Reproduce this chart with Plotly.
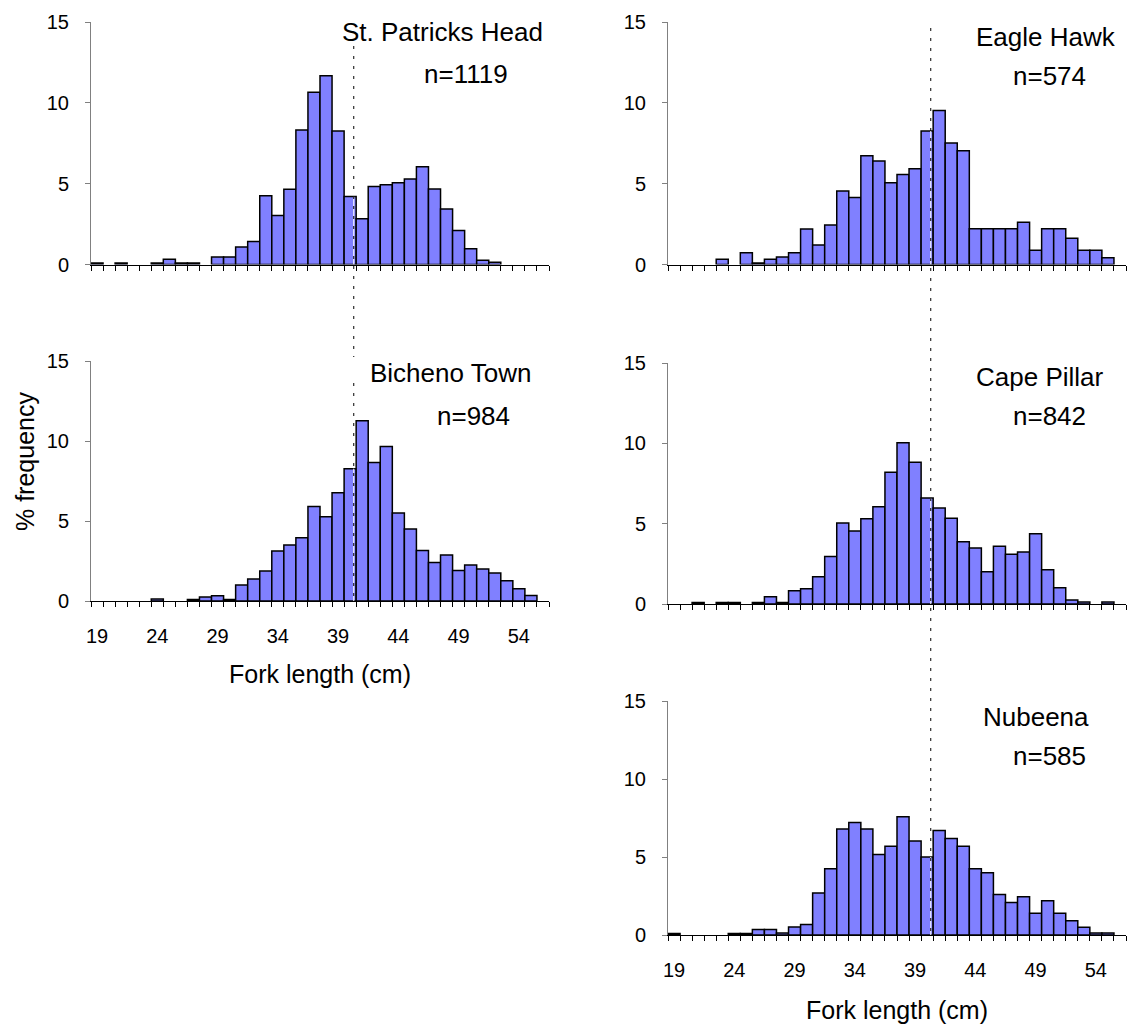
import plotly.graph_objects as go

# ---------------- data ----------------
fork_length_cm = [19, 20, 21, 22, 23, 24, 25, 26, 27, 28, 29, 30, 31, 32, 33, 34, 35, 36, 37,
                  38, 39, 40, 41, 42, 43, 44, 45, 46, 47, 48, 49, 50, 51, 52, 53, 54, 55, 56]
tick_values = [19, 24, 29, 34, 39, 44, 49, 54]
tick_labels = ["19", "24", "29", "34", "39", "44", "49", "54"]

st_patricks_head = [0.1, 0, 0.1, 0, 0, 0.1, 0.33, 0.1, 0.1, 0, 0.47, 0.47, 1.09, 1.43, 4.26, 3.03,
                    4.65, 8.32, 10.65, 11.68, 8.26, 4.2, 2.83, 4.82, 4.94, 5.06, 5.29, 6.05, 4.67,
                    3.44, 2.11, 0.98, 0.27, 0.14, 0, 0, 0, 0]
eagle_hawk = [0, 0, 0, 0, 0.33, 0, 0.72, 0.1, 0.33, 0.47, 0.72, 2.19, 1.21, 2.44, 4.55, 4.14,
              6.72, 6.4, 5.06, 5.57, 5.92, 8.26, 9.53, 7.52, 7.03, 2.21, 2.21, 2.21, 2.21, 2.62,
              0.88, 2.21, 2.21, 1.62, 0.88, 0.88, 0.41, 0]
bicheno_town = [0, 0, 0, 0, 0, 0.12, 0, 0, 0.1, 0.25, 0.33, 0.1, 1.0, 1.37, 1.87, 3.12, 3.5,
                3.96, 5.9, 5.27, 6.77, 8.27, 11.27, 8.65, 9.65, 5.5, 4.5, 3.15, 2.4, 2.88, 1.9,
                2.25, 2.0, 1.75, 1.27, 0.77, 0.35, 0]
cape_pillar = [0, 0, 0.1, 0, 0.1, 0.1, 0, 0.1, 0.45, 0.1, 0.83, 0.95, 1.69, 2.95, 5.04, 4.55,
               5.31, 6.05, 8.2, 10.04, 8.82, 6.59, 5.97, 5.33, 3.88, 3.49, 2.0, 3.6, 3.1, 3.24,
               4.38, 2.13, 1.01, 0.25, 0.12, 0, 0.12, 0]
nubeena = [0.1, 0, 0, 0, 0, 0.1, 0.1, 0.36, 0.36, 0.13, 0.52, 0.67, 2.7, 4.25, 6.8, 7.21, 6.8,
           5.16, 5.69, 7.58, 6.03, 5.0, 6.7, 6.18, 5.69, 4.25, 3.99, 2.6, 2.08, 2.45, 1.39,
           2.19, 1.39, 0.92, 0.49, 0.13, 0.13, 0]

site_names = ["St. Patricks Head", "Eagle Hawk", "Bicheno Town", "Cape Pillar", "Nubeena"]
sample_sizes = ["n=1119", "n=574", "n=984", "n=842", "n=585"]
reference_length = 40.3

# ---------------- layout helpers ----------------
W, H = 1128, 1028
FONT = "Liberation Sans, Arial, Helvetica, sans-serif"
BAR_COLOR = "#8080FF"


def fx(p):
    return p / W


def fy(p):
    return 1 - p / H


series = [st_patricks_head, eagle_hawk, bicheno_town, cape_pillar, nubeena]
# plot-area pixel boxes: (x0, x1, ytop, ybottom)
boxes = [(91, 549, 22, 264.5), (668, 1126, 22, 264.5), (91, 549, 361, 601),
         (668, 1126, 363, 604), (668, 1126, 701, 935)]
show_xlabels = [False, False, True, False, True]
# title (x, center y, anchor), n label (center x, center y)
title_pos = [(545, 32, "right"), (1046, 37, "center"), (450, 373, "center"),
             (1040, 377, "center"), (1036, 717, "center")]
n_pos = [(466, 74), (1049, 76), (473, 416), (1049, 416), (1049, 756)]

fig = go.Figure()
layout = dict(
    width=W, height=H, autosize=False,
    margin=dict(l=0, r=0, t=0, b=0, pad=0, autoexpand=False),
    paper_bgcolor="white", plot_bgcolor="white",
    bargap=0, showlegend=False,
    font=dict(family=FONT, color="black", size=20),
)
annotations = []
shapes = []

for i, (vals, box) in enumerate(zip(series, boxes), start=1):
    xs = "x" if i == 1 else f"x{i}"
    ys = "y" if i == 1 else f"y{i}"
    xa = "xaxis" if i == 1 else f"xaxis{i}"
    ya = "yaxis" if i == 1 else f"yaxis{i}"
    drawn = [v if v > 0 else None for v in vals]
    fig.add_trace(go.Bar(
        x=fork_length_cm, y=drawn, xaxis=xs, yaxis=ys, width=1,
        marker=dict(color=BAR_COLOR, line=dict(color="black", width=1.5)),
        hoverinfo="x+y", name=site_names[i - 1],
    ))
    x0, x1, yt, yb = box
    layout[xa] = dict(
        domain=[fx(x0), fx(x1)], anchor=ys, range=[18.5, 56.5], automargin=False,
        tickmode="array", tickvals=tick_values, ticktext=tick_labels,
        showticklabels=show_xlabels[i - 1], ticks="",
        ticklabelstandoff=17,
        tickfont=dict(size=20, family=FONT, color="black"),
        showline=True, linecolor="black", linewidth=1,
        showgrid=False, zeroline=False, fixedrange=True,
        minor=dict(ticks="outside", tick0=18.5, dtick=1, ticklen=5,
                   tickcolor="black", tickwidth=1, showgrid=False),
    )
    layout[ya] = dict(
        domain=[fy(yb), fy(yt)], anchor=xs, range=[0, 15], automargin=False,
        tickmode="array", tickvals=[0, 5, 10, 15],
        ticks="outside", ticklen=5, tickcolor="#808080", tickwidth=1,
        ticklabelstandoff=12,
        tickfont=dict(size=20, family=FONT, color="black"),
        showline=True, linecolor="#808080", linewidth=1,
        showgrid=False, zeroline=False, fixedrange=True,
    )
    # white line inside the bar that the reference line crosses
    idx = fork_length_cm.index(round(reference_length))
    shapes.append(dict(type="line", xref=xs, yref=ys,
                       x0=reference_length, x1=reference_length, y0=0, y1=vals[idx],
                       line=dict(color="white", width=1), layer="above"))
    tx, ty, tanchor = title_pos[i - 1]
    annotations.append(dict(text=site_names[i - 1], xref="paper", yref="paper",
                            x=fx(tx), y=fy(ty), xanchor=tanchor, yanchor="middle",
                            showarrow=False, font=dict(size=26, family=FONT, color="black")))
    nx, ny = n_pos[i - 1]
    annotations.append(dict(text=sample_sizes[i - 1], xref="paper", yref="paper",
                            x=fx(nx), y=fy(ny), xanchor="center", yanchor="middle",
                            showarrow=False, font=dict(size=26, family=FONT, color="black")))

# dashed reference lines (left column split where the label box hides it)
dash_style = dict(color="black", width=1, dash="3px,7px")
for y_a, y_b in [(46, 357), (383, 601)]:
    shapes.append(dict(type="line", xref="x", yref="paper", x0=reference_length,
                       x1=reference_length, y0=fy(y_a), y1=fy(y_b), line=dash_style,
                       layer="above"))
shapes.append(dict(type="line", xref="x2", yref="paper", x0=reference_length,
                   x1=reference_length, y0=fy(28), y1=fy(935), line=dash_style, layer="above"))

# axis titles
annotations.append(dict(text="Fork length (cm)", xref="paper", yref="paper",
                        x=fx(320), y=fy(674), xanchor="center", yanchor="middle",
                        showarrow=False, font=dict(size=25, family=FONT, color="black")))
annotations.append(dict(text="Fork length (cm)", xref="paper", yref="paper",
                        x=fx(897), y=fy(1010), xanchor="center", yanchor="middle",
                        showarrow=False, font=dict(size=25, family=FONT, color="black")))
annotations.append(dict(text="% frequency", xref="paper", yref="paper",
                        x=fx(25), y=fy(462), xanchor="center", yanchor="middle",
                        textangle=-90, showarrow=False,
                        font=dict(size=25, family=FONT, color="black")))

layout["annotations"] = annotations
layout["shapes"] = shapes
fig.update_layout(**layout)

fig.write_html(
    "out.html",
    config={"displayModeBar": False, "staticPlot": True},
    post_script="document.body.style.margin='0';document.body.style.overflow='hidden';",
)
